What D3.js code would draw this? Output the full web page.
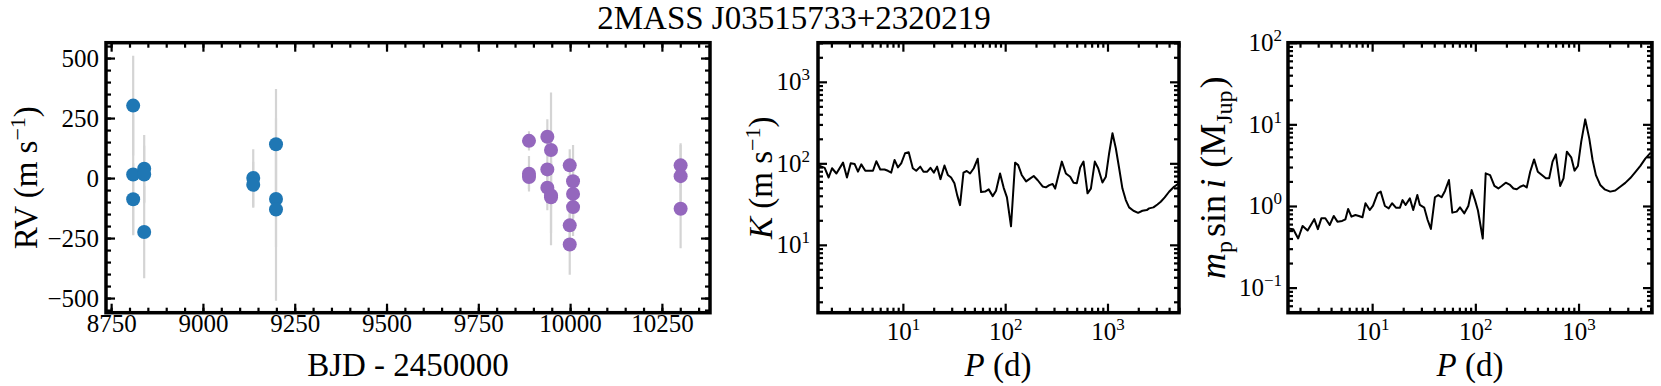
<!DOCTYPE html>
<html><head><meta charset="utf-8">
<script src="https://cdn.jsdelivr.net/npm/d3@7"></script>
<style>
body{margin:0;background:#fff}
svg{display:block}
text{font-family:"Liberation Serif","Times New Roman",serif;fill:#000}
</style>
</head><body>
<svg id="c" width="1661" height="386"></svg>
<script>
// ---------------- data ----------------
const titleText = "2MASS J03515733+2320219";
// RV time series, instrument A (blue)
const bjdA = [8810, 8810, 8810, 8840, 8840, 8840, 9137, 9137, 9199, 9199, 9199];
const rvA  = [302, 15, -88, 39, 15, -225, 0, -28, 141, -87, -131];
const errA = [208, 250, 150, 140, 120, 192, 120, 96, 230, 200, 380];
// RV time series, instrument B (purple)
const bjdB = [9888, 9888, 9888, 9938, 9938, 9938, 9948, 9948, 9948, 9999, 9999, 9999, 10008, 10008, 10008, 10301, 10301, 10301];
const rvB  = [155, 18, 4, 172, 36, -40, 117, -72, -80, 53, -197, -277, -13, -66, -121, 53, 8, -128];
const errB = [40, 74, 50, 73, 100, 94, 240, 208, 150, 67, 100, 126, 151, 100, 120, 92, 130, 164];
const bjdTicks = [8750, 9000, 9250, 9500, 9750, 10000, 10250];
const rvTicks = [-500, -250, 0, 250, 500];

// K detection limit vs period
const periodK = [1.48, 1.72, 1.88, 2.03, 2.24, 2.60, 2.84, 3.09, 3.38, 3.64, 3.92, 4.29, 4.73, 5.10, 5.50, 6.01, 6.62, 7.14, 7.69, 8.29, 8.94, 9.63, 10.5, 11.4, 12.5, 13.5, 14.8, 15.9, 17.3, 18.6, 20.1, 21.6, 23.3, 25.5, 27.5, 29.6, 31.9, 33.9, 36.2, 39.1, 42.1, 45.4, 49.3, 53.9, 58.1, 63.6, 69.0, 75.5, 81.4, 89.1, 96.7, 104, 114, 125, 134, 145, 160, 172, 190, 208, 232, 250, 270, 291, 308, 332, 358, 392, 432, 466, 501, 541, 583, 638, 688, 752, 811, 893, 964, 1038, 1119, 1206, 1300, 1400, 1510, 1626, 1793, 1992, 2194, 2420, 2552, 2812, 3076, 3315, 3626, 4000, 4470, 4950];
const kAmp = [95, 88, 67, 87, 75, 102, 67, 100, 98, 79, 97, 81, 81, 81, 106, 84, 84, 81, 77, 110, 89, 100, 133, 137, 87, 81, 91, 79, 79, 88, 77, 91, 64, 94, 72, 67, 57, 41, 30.7, 77, 80.5, 75, 87, 114, 44.4, 45, 47.9, 39.6, 46, 75, 50, 38.2, 16.9, 102, 95, 72, 60, 64, 70, 62, 52, 50.7, 54, 55.7, 49, 72, 105, 75, 68.5, 57.8, 56.8, 89, 105, 42.8, 49, 105, 87, 58.3, 68.5, 133, 234, 153, 87, 49, 35.4, 28.8, 26.2, 24.7, 26.2, 26.7, 28, 28.8, 31.3, 33.8, 38.2, 44.8, 51.6, 56.5];

// m sin i detection limit vs period
const periodM = [1.50, 1.72, 1.92, 2.12, 2.37, 2.75, 2.98, 3.22, 3.52, 3.88, 4.25, 4.61, 5.12, 5.51, 5.85, 6.30, 6.89, 7.43, 8.06, 8.62, 9.49, 10.2, 11.3, 12.1, 13.3, 14.5, 15.6, 17.0, 18.6, 19.7, 21.1, 23.2, 25.0, 27.4, 29.0, 32.0, 34.5, 37.1, 40.6, 43.7, 47.1, 50.8, 55.5, 59.8, 65.9, 71.0, 78.2, 85.5, 92.1, 99.3, 106, 118, 126, 139, 153, 167, 180, 197, 217, 234, 252, 272, 292, 315, 340, 371, 403, 441, 482, 519, 560, 603, 664, 715, 771, 849, 915, 986, 1062, 1161, 1270, 1368, 1473, 1622, 1787, 2029, 2270, 2535, 2838, 3175, 3548, 3972, 4436, 5000];
const mAmp = [0.53, 0.52, 0.40, 0.57, 0.50, 0.69, 0.52, 0.706, 0.706, 0.585, 0.755, 0.643, 0.655, 0.687, 0.919, 0.740, 0.776, 0.755, 0.727, 1.078, 0.893, 1.01, 1.43, 1.50, 1.0, 0.936, 1.08, 0.954, 0.954, 1.18, 1.03, 1.24, 0.893, 1.36, 1.03, 0.954, 0.674, 0.523, 1.28, 1.36, 1.28, 1.53, 2.08, 0.829, 0.853, 0.963, 0.813, 1.0, 1.57, 1.18, 0.88, 0.40, 2.51, 2.39, 1.76, 1.64, 1.76, 1.93, 1.81, 1.64, 1.60, 1.72, 1.79, 1.69, 2.63, 3.72, 2.63, 2.39, 2.18, 2.18, 3.49, 4.29, 1.76, 2.18, 4.62, 3.94, 2.71, 3.09, 6.13, 11.5, 6.73, 3.66, 2.39, 1.81, 1.60, 1.50, 1.55, 1.72, 1.92, 2.2, 2.6, 3.1, 3.8, 4.5];

const pTicks = [10, 100, 1000];
const kTicks = [10, 100, 1000];
const mTicks = [0.1, 1, 10, 100];

// ---------------- drawing ----------------
const svg = d3.select('#c');
const Y0 = 42.7, Y1 = 312.7;
const TICK_FS = 25, SUP_FS = 17, LAB_FS = 33;
const minus = s => String(s).replace('-', '\u2212');

function logMinors(domain) {
  const out = [];
  for (let e = Math.floor(Math.log10(domain[0])) ; e <= Math.ceil(Math.log10(domain[1])); e++) {
    for (let m = 2; m <= 9; m++) {
      const v = m * Math.pow(10, e);
      if (v >= domain[0] && v <= domain[1]) out.push(v);
    }
  }
  return out;
}
function linMinors(domain, step) {
  return d3.range(Math.ceil(domain[0] / step) * step, domain[1] + 1e-9, step);
}

function makeAxis(gen, transform, values, size, withLabels) {
  const ax = svg.append('g').attr('transform', transform)
    .call(gen.tickValues(values).tickSizeInner(-size).tickSizeOuter(0).tickPadding(0)
      .tickFormat(withLabels ? (d => String(d)) : (() => '')));
  ax.select('.domain').remove();
  ax.attr('font-family', null).attr('font-size', TICK_FS);
  ax.selectAll('.tick line').attr('stroke', '#000').attr('stroke-width', 2.2);
  return ax;
}

function linLabel(t, d) { t.text(minus(d)); }
function logLabel(t, d) {
  t.text('');
  t.append('tspan').text('10');
  t.append('tspan').attr('font-size', SUP_FS).attr('dy', -10).text(minus(Math.round(Math.log10(d))));
}

function drawFrame(xs, ys, xMaj, xMin, yMaj, yMin, xLab, yLab, xLabY, yLabDx) {
  const [x0, x1] = xs.range();
  const b = makeAxis(d3.axisBottom(xs), `translate(0,${Y1})`, xMaj, 9, true);
  b.selectAll('.tick text').each(function (d) {
    const t = d3.select(this); t.attr('dy', null).attr('y', xLabY); xLab(t, d);
  });
  makeAxis(d3.axisBottom(xs), `translate(0,${Y1})`, xMin, 5, false);
  makeAxis(d3.axisTop(xs), `translate(0,${Y0})`, xMaj, 9, false);
  makeAxis(d3.axisTop(xs), `translate(0,${Y0})`, xMin, 5, false);
  const l = makeAxis(d3.axisLeft(ys), `translate(${x0},0)`, yMaj, 9, true);
  l.selectAll('.tick text').each(function (d) {
    const t = d3.select(this); t.attr('dy', null).attr('x', -yLabDx).attr('y', 8); yLab(t, d);
  });
  makeAxis(d3.axisLeft(ys), `translate(${x0},0)`, yMin, 5, false);
  makeAxis(d3.axisRight(ys), `translate(${x1},0)`, yMaj, 9, false);
  makeAxis(d3.axisRight(ys), `translate(${x1},0)`, yMin, 5, false);
}
function spine(xs) {
  const [x0, x1] = xs.range();
  svg.append('rect').attr('x', x0).attr('y', Y0).attr('width', x1 - x0).attr('height', Y1 - Y0)
    .attr('fill', 'none').attr('stroke', '#000').attr('stroke-width', 3.5);
}
function clip(id, xs) {
  const [x0, x1] = xs.range();
  svg.append('clipPath').attr('id', id).append('rect')
    .attr('x', x0).attr('y', Y0).attr('width', x1 - x0).attr('height', Y1 - Y0);
}
function rich(sel, parts) {
  parts.forEach(p => {
    const t = sel.append('tspan').text(p.t);
    if (p.it) t.attr('font-style', 'italic');
    if (p.fs) t.attr('font-size', p.fs);
    if (p.dy) t.attr('dy', p.dy);
    if (p.dx) t.attr('dx', p.dx);
  });
}

// ---- Panel 1: RV time series ----
const x1s = d3.scaleLinear().domain([8736, 10381]).range([106, 710]);
const y1s = d3.scaleLinear().domain([-561, 564]).range([Y1, Y0]);
drawFrame(x1s, y1s, bjdTicks, linMinors([8736, 10381], 50), rvTicks, linMinors([-561, 564], 50),
  linLabel, linLabel, 19, 7);
clip('cl1', x1s);
const gp = svg.append('g').attr('clip-path', 'url(#cl1)');
function errbars(bjd, rv, err) {
  const idx = d3.range(bjd.length);
  gp.append('g').selectAll('line').data(idx).join('line')
    .attr('x1', i => x1s(bjd[i])).attr('x2', i => x1s(bjd[i]))
    .attr('y1', i => y1s(rv[i] - err[i])).attr('y2', i => y1s(rv[i] + err[i]))
    .attr('stroke', '#d4d4d4').attr('stroke-width', 2.2);
  return idx;
}
const iA = errbars(bjdA, rvA, errA);
const iB = errbars(bjdB, rvB, errB);
gp.append('g').selectAll('circle').data(iA).join('circle')
  .attr('cx', i => x1s(bjdA[i])).attr('cy', i => y1s(rvA[i])).attr('r', 7).attr('fill', '#1f77b4');
gp.append('g').selectAll('circle').data(iB).join('circle')
  .attr('cx', i => x1s(bjdB[i])).attr('cy', i => y1s(rvB[i])).attr('r', 7).attr('fill', '#9467bd');
spine(x1s);

// ---- Panel 2: K vs P ----
const x2s = d3.scaleLog().domain([1.48, 5000]).range([818, 1179]);
const y2s = d3.scaleLog().domain([1.47, 3020]).range([Y1, Y0]);
drawFrame(x2s, y2s, pTicks, logMinors(x2s.domain()), kTicks, logMinors(y2s.domain()),
  logLabel, logLabel, 27, 8);
clip('cl2', x2s);
svg.append('path').attr('clip-path', 'url(#cl2)')
  .datum(d3.range(periodK.length))
  .attr('d', d3.line().x(i => x2s(periodK[i])).y(i => y2s(kAmp[i])))
  .attr('fill', 'none').attr('stroke', '#000').attr('stroke-width', 2).attr('stroke-linejoin', 'round');
spine(x2s);

// ---- Panel 3: m sin i vs P ----
const x3s = d3.scaleLog().domain([1.53, 5150]).range([1288, 1652]);
const y3s = d3.scaleLog().domain([0.0493, 100]).range([Y1, Y0]);
drawFrame(x3s, y3s, pTicks, logMinors(x3s.domain()), mTicks, logMinors(y3s.domain()),
  logLabel, logLabel, 27, 6);
clip('cl3', x3s);
svg.append('path').attr('clip-path', 'url(#cl3)')
  .datum(d3.range(periodM.length))
  .attr('d', d3.line().x(i => x3s(periodM[i])).y(i => y3s(mAmp[i])))
  .attr('fill', 'none').attr('stroke', '#000').attr('stroke-width', 2).attr('stroke-linejoin', 'round');
spine(x3s);

// ---- labels ----
const yc = (Y0 + Y1) / 2;
svg.append('text').attr('x', 794).attr('y', 29).attr('text-anchor', 'middle').attr('font-size', 33).text(titleText);

svg.append('text').attr('x', 408).attr('y', 376).attr('text-anchor', 'middle').attr('font-size', LAB_FS).text('BJD - 2450000');
const px2 = svg.append('text').attr('x', 998).attr('y', 376).attr('text-anchor', 'middle').attr('font-size', LAB_FS);
rich(px2, [{ t: 'P', it: 1 }, { t: ' (d)' }]);
const px3 = svg.append('text').attr('x', 1470).attr('y', 376).attr('text-anchor', 'middle').attr('font-size', LAB_FS);
rich(px3, [{ t: 'P', it: 1 }, { t: ' (d)' }]);

const ly1 = svg.append('text').attr('transform', `translate(37,${yc}) rotate(-90)`).attr('text-anchor', 'middle').attr('font-size', LAB_FS);
rich(ly1, [{ t: 'RV (m s' }, { t: '\u22121', fs: 22, dy: -12 }, { t: ')', dy: 12 }]);
const ly2 = svg.append('text').attr('transform', `translate(772,${yc}) rotate(-90)`).attr('text-anchor', 'middle').attr('font-size', LAB_FS);
rich(ly2, [{ t: 'K', it: 1 }, { t: ' (m s' }, { t: '\u22121', fs: 22, dy: -12 }, { t: ')', dy: 12 }]);
const ly3 = svg.append('text').attr('transform', `translate(1225,${yc}) rotate(-90)`).attr('text-anchor', 'middle').attr('font-size', 36);
rich(ly3, [{ t: 'm', it: 1 }, { t: 'p', fs: 24, dy: 7 }, { t: 'sin', dy: -7, dx: 4 }, { t: 'i', it: 1, dx: 6 },
  { t: ' (', dx: 2 }, { t: 'M' }, { t: 'Jup', fs: 24, dy: 7 }, { t: ')', dy: -7, dx: 2 }]);
</script>
</body></html>
